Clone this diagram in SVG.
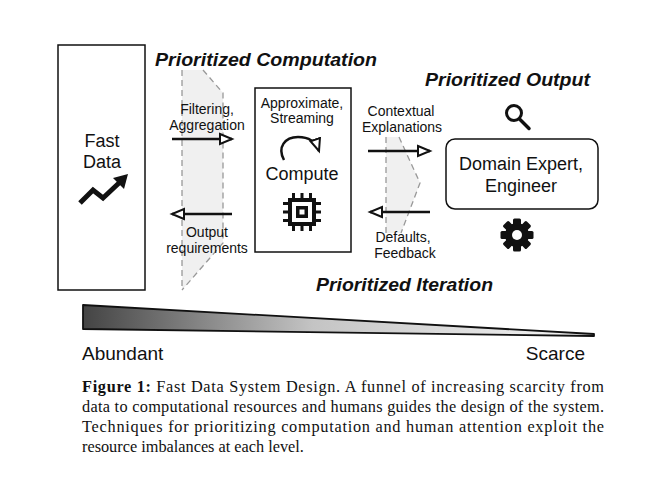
<svg xmlns="http://www.w3.org/2000/svg" width="656" height="483" viewBox="0 0 656 483">
<style>
.sans{font-family:"Liberation Sans",Arial,sans-serif;fill:#111}
.lbl{font-size:14px;text-anchor:middle}
.title{font-size:19px;font-weight:bold;font-style:italic}
.cap{font-family:"Liberation Serif","Times New Roman",serif;font-size:16.3px;fill:#111}
.box{fill:#fff;stroke:#111;stroke-width:1.5}
.dash{fill:none;stroke:#999;stroke-width:1.3;stroke-dasharray:6 4}
.shade{fill:#f0f0f0;stroke:none}
.arr{stroke:#111;stroke-width:2.5;fill:none;marker-end:url(#open)}
</style>
<defs>
<marker id="open" markerUnits="userSpaceOnUse" markerWidth="16" markerHeight="14" refX="13" refY="6" orient="auto" viewBox="0 0 16 12">
<path d="M1,1 L13,6 L1,11 Z" fill="#fff" stroke="#111" stroke-width="2" stroke-linejoin="miter"/>
</marker>
<linearGradient id="wedge" x1="0" y1="0" x2="1" y2="0">
<stop offset="0" stop-color="#444"/>
<stop offset="0.45" stop-color="#c4c4c4"/>
<stop offset="1" stop-color="#f6f6f6"/>
</linearGradient>
</defs>
<rect width="656" height="483" fill="#fff"/>

<g id="funnel-left">
<polygon class="shade" points="182,70 203,70 223,93 223,243 182,290"/>
<line class="dash" x1="182" y1="70" x2="182" y2="290"/>
<polyline class="dash" points="203,70 223,93 223,243 182,290"/>
</g>
<g id="funnel-right">
<polygon class="shade" points="386,137 399,137 420,183 401,233 386,233"/>
<line class="dash" x1="386" y1="137" x2="386" y2="233"/>
<polyline class="dash" points="399,137 420,183 401,233"/>
</g>

<g id="titles" class="sans title">
<text x="155" y="66" textLength="222" lengthAdjust="spacingAndGlyphs">Prioritized Computation</text>
<text x="425" y="86" textLength="165" lengthAdjust="spacingAndGlyphs">Prioritized Output</text>
<text x="316" y="291" textLength="177" lengthAdjust="spacingAndGlyphs">Prioritized Iteration</text>
</g>

<g id="fast-data">
<rect class="box" x="58" y="45" width="87" height="245"/>
<text class="sans" x="102" y="147" font-size="18" text-anchor="middle">Fast</text>
<text class="sans" x="102" y="168" font-size="18" text-anchor="middle">Data</text>
<polyline points="80,203 93,190 103,198 119,183" fill="none" stroke="#111" stroke-width="5" stroke-linejoin="miter"/>
<polygon points="128,174 113,178 124,189" fill="#111"/>
</g>

<g id="compute">
<rect class="box" x="255" y="88" width="96" height="164"/>
<text class="sans lbl" x="302" y="108">Approximate,</text>
<text class="sans lbl" x="302" y="123">Streaming</text>
<path class="arr" d="M284,160 C277,147 285,137 298,137 C309,137 316,142 319,151" stroke-width="2.2"/>
<text class="sans" x="302" y="180" font-size="18" text-anchor="middle">Compute</text>
<g id="chip" fill="#111">
<rect x="288" y="198" width="28" height="28"/>
<rect x="292" y="202" width="20" height="20" fill="#fff"/>
<rect x="296" y="206" width="12" height="12"/>
<rect x="299.5" y="209.5" width="5" height="5" fill="#fff"/>
<rect x="292" y="193" width="3" height="5"/><rect x="300.5" y="193" width="3" height="5"/><rect x="309" y="193" width="3" height="5"/>
<rect x="292" y="226" width="3" height="5"/><rect x="300.5" y="226" width="3" height="5"/><rect x="309" y="226" width="3" height="5"/>
<rect x="283" y="202" width="5" height="3"/><rect x="283" y="210.5" width="5" height="3"/><rect x="283" y="219" width="5" height="3"/>
<rect x="316" y="202" width="5" height="3"/><rect x="316" y="210.5" width="5" height="3"/><rect x="316" y="219" width="5" height="3"/>
</g>
</g>

<g id="domain-expert">
<rect class="box" x="446" y="139" width="152" height="70" rx="9"/>
<text class="sans" x="521" y="170" font-size="18" text-anchor="middle">Domain Expert,</text>
<text class="sans" x="521" y="192" font-size="18" text-anchor="middle">Engineer</text>
<g id="magnifier">
<circle cx="514" cy="113" r="7.5" fill="none" stroke="#111" stroke-width="3"/>
<line x1="519.5" y1="119" x2="529" y2="128.5" stroke="#111" stroke-width="3.5" stroke-linecap="round"/>
</g>
<g id="gear" transform="translate(517,235)" fill="#111">
<circle r="12"/>
<rect x="-4" y="-16.5" width="8" height="7" rx="1.5"/>
<rect x="-4" y="-16.5" width="8" height="7" rx="1.5" transform="rotate(45)"/>
<rect x="-4" y="-16.5" width="8" height="7" rx="1.5" transform="rotate(90)"/>
<rect x="-4" y="-16.5" width="8" height="7" rx="1.5" transform="rotate(135)"/>
<rect x="-4" y="-16.5" width="8" height="7" rx="1.5" transform="rotate(180)"/>
<rect x="-4" y="-16.5" width="8" height="7" rx="1.5" transform="rotate(225)"/>
<rect x="-4" y="-16.5" width="8" height="7" rx="1.5" transform="rotate(270)"/>
<rect x="-4" y="-16.5" width="8" height="7" rx="1.5" transform="rotate(315)"/>
<circle r="5" fill="#fff"/>
</g>
</g>

<g id="connectors">
<line class="arr" x1="172" y1="139" x2="232" y2="139"/>
<line class="arr" x1="232" y1="214" x2="172" y2="214"/>
<line class="arr" x1="368" y1="151" x2="430" y2="151"/>
<line class="arr" x1="430" y1="212" x2="370" y2="212"/>
</g>

<g id="connector-labels" class="sans lbl">
<text x="207" y="114">Filtering,</text>
<text x="207" y="130">Aggregation</text>
<text x="207" y="237">Output</text>
<text x="207" y="253">requirements</text>
<text x="401" y="116">Contextual</text>
<text x="402" y="132">Explanations</text>
<text x="403" y="242">Defaults,</text>
<text x="405" y="258">Feedback</text>
</g>

<g id="scale">
<polygon points="83,305 594,334 594,336 83,329" fill="url(#wedge)" stroke="#111" stroke-width="1.8" stroke-linejoin="round"/>
<text class="sans" x="82" y="360" font-size="19">Abundant</text>
<text class="sans" x="585" y="360" font-size="19" text-anchor="end">Scarce</text>
</g>

<g id="caption" class="cap">
<text x="82" y="392" textLength="522" lengthAdjust="spacing"><tspan font-weight="bold">Figure 1:</tspan> Fast Data System Design.  A funnel of increasing scarcity from</text>
<text x="82" y="412" textLength="522" lengthAdjust="spacing">data to computational resources and humans guides the design of the system.</text>
<text x="82" y="432" textLength="522" lengthAdjust="spacing">Techniques for prioritizing computation and human attention exploit the</text>
<text x="82" y="452">resource imbalances at each level.</text>
</g>
</svg>
